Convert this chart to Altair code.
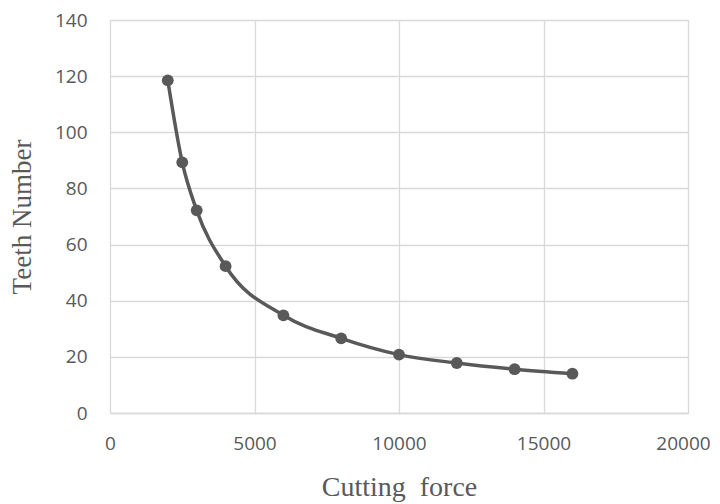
import altair as alt
import pandas as pd

force = [2000, 2500, 3000, 4000, 6000, 8000, 10000, 12000, 14000, 16000]
teeth = [118.5, 89.3, 72.2, 52.3, 34.8, 26.6, 20.8, 17.8, 15.6, 14.0]

df = pd.DataFrame({"force": force, "teeth": teeth})

x = alt.X("force:Q", scale=alt.Scale(domain=[0, 20000], nice=False),
          axis=alt.Axis(title="Cutting\u00a0\u00a0force", values=[0, 5000, 10000, 15000, 20000], format="d",
                        grid=True, gridColor="#d9d9d9", gridWidth=1.3,
                        domain=True, domainColor="#d9d9d9", domainWidth=1.3, ticks=False,
                        labelFont="Open Sans", labelFontSize=19, labelColor="#595959",
                        labelPadding=21, labelFlush=False, labelOverlap=False,
                        labelOffset={"expr": "datum.value == 20000 ? -5 : 0"},
                        titleFont="Liberation Serif", titleFontSize=28, titleFontWeight="normal",
                        titleColor="#595959", titlePadding=20))
y = alt.Y("teeth:Q", scale=alt.Scale(domain=[0, 140], nice=False),
          axis=alt.Axis(title="Teeth Number", values=[0, 20, 40, 60, 80, 100, 120, 140], format="d",
                        grid=True, gridColor="#d9d9d9", gridWidth=1.3,
                        domain=False, ticks=False,
                        labelFont="Open Sans", labelFontSize=19, labelColor="#595959",
                        labelPadding=23, labelFlush=False,
                        titleFont="Liberation Serif", titleFontSize=27, titleFontWeight="normal",
                        titleColor="#595959", titlePadding=18))

line = alt.Chart(df).mark_line(color="#595959", strokeWidth=3.5, interpolate="monotone").encode(x=x, y=y)
pts = alt.Chart(df).mark_point(filled=True, color="#595959", size=140, opacity=1).encode(x=x, y=y)

chart = (line + pts).properties(
    width=578, height=393,
    autosize=alt.AutoSizeParams(type="none"),
    padding={"left": 102, "top": 12, "right": 22, "bottom": 90},
).configure_view(stroke="#d9d9d9", strokeWidth=1.3).configure(background="white")

chart.save("out.html", embed_options={"renderer": "svg", "actions": False})
